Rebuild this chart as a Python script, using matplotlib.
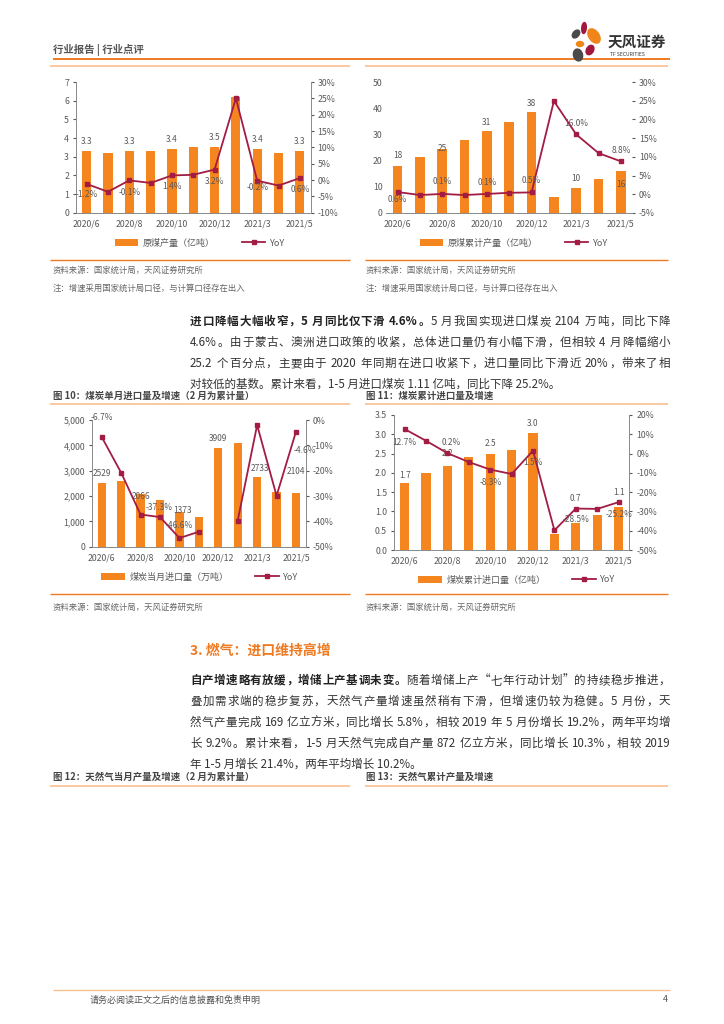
"""
行业点评 第4页：原煤产量 / 煤炭进口 图表复刻
"""
import re
import numpy as np
import matplotlib.pyplot as plt
from matplotlib.patches import Ellipse
from matplotlib.lines import Line2D
from matplotlib.patches import Patch
from matplotlib.ticker import FuncFormatter, MultipleLocator

plt.rcParams['font.family'] = ['Noto Sans CJK SC', 'DejaVu Sans']

# ---------------- 数据 ----------------
months = ['2020/6', '2020/7', '2020/8', '2020/9', '2020/10', '2020/11',
          '2020/12', '2021/2', '2021/3', '2021/4', '2021/5']

# 图8：原煤产量（亿吨）及同比
coal_prod = [3.3, 3.2, 3.3, 3.3, 3.4, 3.5, 3.5, 6.2, 3.4, 3.2, 3.3]
coal_prod_yoy = [-1.2, -3.6, -0.1, -0.9, 1.4, 1.6, 3.2, 25.0, -0.2, -1.7, 0.6]

# 图9：原煤累计产量（亿吨）及同比
coal_cum = [18.1, 21.2, 24.6, 27.8, 31.2, 34.7, 38.4, 6.2, 9.7, 13.0, 16.2]
coal_cum_yoy = [0.6, -0.2, 0.1, -0.2, 0.1, 0.4, 0.5, 24.9, 16.0, 11.0, 8.8]

# 图10：煤炭当月进口量（万吨）及同比
imp_month = [2529, 2600, 2066, 1850, 1373, 1160, 3909, 4090, 2733, 2150, 2104]
imp_month_yoy = [-6.7, -20.8, -37.3, -38.3, -46.6, -44.1, np.nan, -39.7, -2.0, -29.9, -4.6]

# 图11：煤炭累计进口量（亿吨）及同比
imp_cum = [1.74, 2.0, 2.19, 2.4, 2.49, 2.6, 3.04, 0.41, 0.69, 0.91, 1.11]
imp_cum_yoy = [12.7, 6.6, 0.2, -4.4, -8.3, -10.6, 1.5, -39.8, -28.5, -28.7, -25.2]

ORANGE = '#F5861F'
CRIMSON = '#A21C44'
PEACH = '#F8C08E'
HEAD_OR = '#EE7A22'
TXT = '#595959'
BODY = 8.3

W, H = 724, 1024
fig = plt.figure(figsize=(W / 100, H / 100), dpi=100)
fig.patch.set_facecolor('white')

# 整页背景坐标（像素）
bg = fig.add_axes([0, 0, 1, 1])
bg.set_xlim(0, W)
bg.set_ylim(H, 0)
bg.axis('off')
renderer = fig.canvas.get_renderer()


def hline(x0, x1, y, color, lw=1.0):
    bg.plot([x0, x1], [y, y], color=color, lw=lw, solid_capstyle='butt')


def txt(x, y, s, size=7, color='#333333', weight='normal', ha='left'):
    return bg.text(x, y, s, fontsize=size, color=color, fontweight=weight,
                   ha=ha, va='center')


def text_width(s, size, weight):
    t = bg.text(0, 0, s, fontsize=size, fontweight=weight)
    w = t.get_window_extent(renderer=renderer).width
    t.remove()
    return w


def body_line(y, s, x0=190):
    bg.text(x0, y + 4, s, fontsize=BODY, color='#333333', ha='left', va='baseline')


def justify(y, parts, x0=190, x1=670, size=BODY):
    # 两端对齐：中文逐字、数字/英文成组，均分剩余空白
    tokens = []
    for s, wt, col in parts:
        for tok in re.findall(r'[A-Za-z0-9.%\-]+| |.', s):
            tokens.append((tok, wt, col))
    space_w = text_width('x x', size, 'normal') - text_width('xx', size, 'normal')
    widths = [space_w if t == ' ' else text_width(t, size, wt) for t, wt, col in tokens]
    gap = (x1 - x0 - sum(widths)) / (len(tokens) - 1)
    x = x0
    for (t, wt, col), w in zip(tokens, widths):
        if t != ' ':
            bg.text(x, y + 4, t, fontsize=size, color=col, fontweight=wt,
                    ha='left', va='baseline')
        x += w + gap


def px_axes(x0, y0, x1, y1):
    return fig.add_axes([x0 / W, 1 - y1 / H, (x1 - x0) / W, (y1 - y0) / H])


def combo(box, bars, yoy, bar_name, lim_l, step_l, lim_r, step_r, lfmt,
          bar_labels, bar_fmt, yoy_labels, legend_xy, show_lr=True):
    ax = px_axes(*box)
    x = np.arange(len(months))
    ax.bar(x, bars, width=0.43, color=ORANGE, zorder=2)
    ax.set_xlim(-0.5, len(months) - 0.5)
    ax.set_ylim(*lim_l)
    ax.yaxis.set_major_locator(MultipleLocator(step_l))
    ax.yaxis.set_major_formatter(FuncFormatter(lfmt))
    ax.set_xticks(x[::2])
    ax.set_xticklabels(months[::2])
    ax.tick_params(axis='x', length=0, labelsize=6.3, colors=TXT, pad=5)
    ax.tick_params(axis='y', length=2, labelsize=6.3, colors=TXT, pad=3)
    ax.patch.set_alpha(0)

    ax2 = ax.twinx()
    ax2.plot(x, yoy, color=CRIMSON, lw=1.3, marker='s', markersize=3.2, zorder=3)
    ax2.set_ylim(*lim_r)
    ax2.yaxis.set_major_locator(MultipleLocator(step_r))
    ax2.yaxis.set_major_formatter(FuncFormatter(lambda v, p: f'{v:.0f}%'))
    ax2.tick_params(axis='y', length=2, labelsize=6.3, colors=TXT, pad=3)

    for a in (ax, ax2):
        a.spines['top'].set_visible(False)
        for side in ('left', 'right', 'bottom'):
            a.spines[side].set_color('#8C8C8C')
            a.spines[side].set_linewidth(0.7)
        if not show_lr:
            a.spines['left'].set_visible(False)
            a.spines['right'].set_visible(False)
    if not show_lr:
        ax.tick_params(axis='y', length=0)

    for i, dx, dy in bar_labels:
        ax.annotate(bar_fmt(bars[i]), xy=(i, bars[i]), xytext=(dx, dy),
                    textcoords='offset pixels', ha='center', va='center',
                    fontsize=6, color=TXT, zorder=4)
    for i, dx, dy in yoy_labels:
        ax2.annotate(f'{yoy[i]:.1f}%', xy=(i, yoy[i]), xytext=(dx, dy),
                     textcoords='offset pixels', ha='center', va='center',
                     fontsize=6, color=TXT, zorder=4)

    handles = [Patch(facecolor=ORANGE, edgecolor='none'),
               Line2D([0], [0], color=CRIMSON, lw=1.3, marker='s', markersize=3.2)]
    fig.legend(handles, [bar_name, 'YoY'], loc='center',
               bbox_to_anchor=(legend_xy[0] / W, 1 - legend_xy[1] / H),
               ncol=2, frameon=False, fontsize=6.5, handlelength=2.6,
               handleheight=0.9, columnspacing=3.0, handletextpad=0.5,
               labelcolor=TXT)
    return ax


# ---------------- 页眉 ----------------
txt(53, 50, '行业报告 | 行业点评', size=7.5, color='#555555', weight='bold')
hline(53, 670, 59, HEAD_OR, 1.4)
for (cx, cy, w, h, ang, col) in [
        (584, 28, 4.5, 11, 5, '#A3173D'),
        (594, 36, 10, 16, -35, '#F08519'),
        (576, 34, 6, 9, 40, '#4A4A4A'),
        (580, 44, 7, 5, 0, '#F08519'),
        (578, 55, 9, 12, -15, '#4A4A4A'),
        (590, 50, 7, 10, 30, '#A3173D')]:
    bg.add_patch(Ellipse((cx, cy), w, h, angle=ang, color=col, zorder=5))
txt(608, 42, '天风证券', size=10.5, color='#333333', weight='bold')
txt(610, 55, 'TF SECURITIES', size=3.6, color='#333333')

hline(50, 350, 66, PEACH, 1.2)
hline(365, 668, 66, PEACH, 1.2)

# ---------------- 上排两图 ----------------
combo((76, 82, 310.5, 212.7), coal_prod, coal_prod_yoy, '原煤产量（亿吨）',
      (0, 7), 1, (-10, 30), 5, lambda v, p: f'{v:.0f}',
      [(i, 0, 10) for i in (0, 2, 4, 6, 8, 10)], lambda v: f'{v:.1f}',
      [(0, 0, -11), (2, 0, -12), (4, 0, -11), (6, 0, -12), (8, 0, -7), (10, 0, -11)],
      (200, 243))

combo((386.5, 82, 632, 213), coal_cum, coal_cum_yoy, '原煤累计产量（亿吨）',
      (0, 50), 10, (-5, 30), 5, lambda v, p: f'{v:.0f}',
      [(0, 0, 10), (2, 0, 0), (4, 0, 9), (6, 0, 9), (8, 0, 9), (10, 0, -14)],
      lambda v: f'{v:.0f}',
      [(0, 0, -7), (2, 0, 12), (4, 0, 11), (6, 0, 12), (8, 0, 11), (10, 0, 11)],
      (514, 243), show_lr=False)

hline(50, 350, 260, HEAD_OR, 1.0)
hline(365, 668, 260, HEAD_OR, 1.0)
for x0 in (53, 366):
    txt(x0, 270, '资料来源：国家统计局，天风证券研究所', size=6, color='#666666')
    txt(x0, 288, '注：增速采用国家统计局口径，与计算口径存在出入', size=6, color='#666666')

# ---------------- 正文一 ----------------
justify(321, [('进口降幅大幅收窄，5 月同比仅下滑 4.6%。', 'bold', '#222222'),
              ('5 月我国实现进口煤炭 2104 万吨，同比下降', 'normal', '#333333')])
justify(342, [('4.6%。由于蒙古、澳洲进口政策的收紧，总体进口量仍有小幅下滑，但相较 4 月降幅缩小',
               'normal', '#333333')])
justify(363, [('25.2 个百分点，主要由于 2020 年同期在进口收紧下，进口量同比下滑近 20%，带来了相',
               'normal', '#333333')])
body_line(384, '对较低的基数。累计来看，1-5 月进口煤炭 1.11 亿吨，同比下降 25.2%。')

txt(53, 396, '图 10：煤炭单月进口量及增速（2 月为累计量）', size=6.8, color='#444444', weight='bold')
txt(366, 396, '图 11：煤炭累计进口量及增速', size=6.8, color='#444444', weight='bold')
hline(50, 350, 404, PEACH, 1.2)
hline(365, 668, 404, PEACH, 1.2)

# ---------------- 下排两图 ----------------
combo((92, 420, 305.7, 546.7), imp_month, imp_month_yoy, '煤炭当月进口量（万吨）',
      (0, 5000), 1000, (-50, 0), 10, lambda v, p: f'{v:,.0f}',
      [(0, 0, 9), (2, 0, -2), (4, 3, 1), (6, 0, 9), (8, 3, 9), (10, 0, 22)],
      lambda v: f'{v:.0f}',
      [(0, 0, 19), (2, 19, 7), (4, 0, 13), (10, 9, -19)],
      (200, 577))

combo((394, 415, 629.3, 550), imp_cum, imp_cum_yoy, '煤炭累计进口量（亿吨）',
      (0, 3.5), 0.5, (-50, 20), 10, lambda v, p: f'{v:.1f}',
      [(0, 0, 7), (2, 0, 12), (4, 0, 10), (6, 0, 9), (8, 0, 25), (10, 0, 15)],
      lambda v: f'{v:.1f}',
      [(0, 0, -13), (2, 4, 11), (4, 0, -13), (6, 0, -12), (8, 0, -11), (10, 0, -12)],
      (517, 580))

hline(50, 350, 594, HEAD_OR, 1.0)
hline(365, 668, 594, HEAD_OR, 1.0)
for x0 in (53, 366):
    txt(x0, 607, '资料来源：国家统计局，天风证券研究所', size=6, color='#666666')

# ---------------- 正文二 ----------------
txt(190, 651, '3. 燃气：进口维持高增', size=10, color=HEAD_OR, weight='bold')
justify(680, [('自产增速略有放缓，增储上产基调未变。', 'bold', '#222222'),
              ('随着增储上产“七年行动计划”的持续稳步推进，', 'normal', '#333333')])
justify(701, [('叠加需求端的稳步复苏，天然气产量增速虽然稍有下滑，但增速仍较为稳健。5 月份，天',
               'normal', '#333333')])
justify(722, [('然气产量完成 169 亿立方米，同比增长 5.8%，相较 2019 年 5 月份增长 19.2%，两年平均增',
               'normal', '#333333')])
justify(743, [('长 9.2%。累计来看，1-5 月天然气完成自产量 872 亿立方米，同比增长 10.3%，相较 2019',
               'normal', '#333333')])
body_line(764, '年 1-5 月增长 21.4%，两年平均增长 10.2%。')

txt(53, 777, '图 12：天然气当月产量及增速（2 月为累计量）', size=6.8, color='#444444', weight='bold')
txt(366, 777, '图 13：天然气累计产量及增速', size=6.8, color='#444444', weight='bold')
hline(50, 350, 786, PEACH, 1.2)
hline(365, 668, 786, PEACH, 1.2)

# ---------------- 页脚 ----------------
hline(53, 670, 990, PEACH, 1.0)
txt(90, 1000, '请务必阅读正文之后的信息披露和免责申明', size=6.5, color='#555555')
txt(668, 1000, '4', size=6.5, color='#555555', ha='right')

plt.savefig('out.png', dpi=100, facecolor='white')
